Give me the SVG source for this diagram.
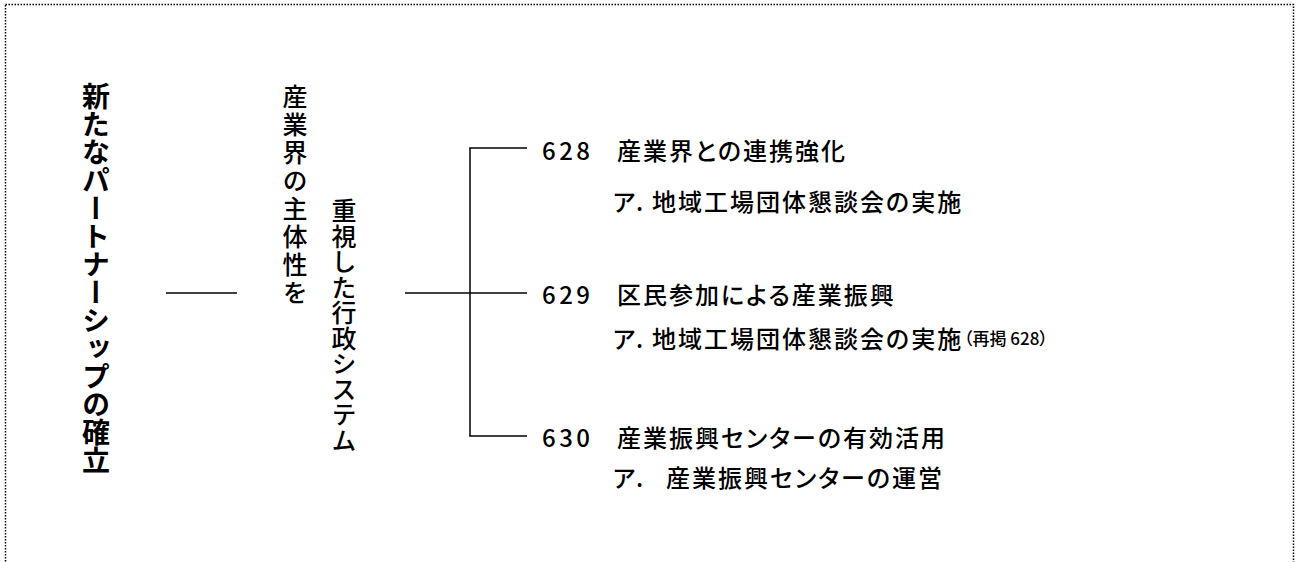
<svg xmlns="http://www.w3.org/2000/svg" width="1297" height="562" viewBox="0 0 1297 562">
<style>
text{font-family:"Noto Sans CJK JP","Liberation Sans",sans-serif;fill:#000;font-weight:500}
.v{writing-mode:vertical-rl;font-size:25px}
.vb{writing-mode:vertical-rl;font-size:28px;font-weight:bold}
.h{font-size:24px;letter-spacing:2px;dominant-baseline:central;font-feature-settings:"palt"}
.a{font-feature-settings:normal;letter-spacing:0}
.s{font-size:17px;letter-spacing:0;dominant-baseline:central}
.ln{stroke:#000;stroke-width:1.5;fill:none}
</style>
<rect x="5.5" y="4.5" width="1288" height="600" fill="none" stroke="#000" stroke-width="1.5" stroke-dasharray="1.5 1.5"/>
<g id="root"><text class="vb" x="96" y="82">新たなパートナーシップの確立</text></g>
<g id="policy"><text class="v" x="295" y="84" letter-spacing="3">産業界の主体性を</text><text class="v" x="344" y="198" letter-spacing="0.5">重視した行政システム</text></g>
<g id="connectors">
<line class="ln" x1="166" y1="293" x2="237" y2="293"/>
<line class="ln" x1="405" y1="293" x2="527" y2="293"/>
<line class="ln" x1="470" y1="148" x2="470" y2="436"/>
<line class="ln" x1="469.25" y1="148" x2="527" y2="148"/>
<line class="ln" x1="469.25" y1="436" x2="527" y2="436"/>
</g>
<g id="n628"><text class="h" y="149"><tspan x="542" letter-spacing="3.5">628</tspan><tspan x="617">産業界との連携強化</tspan></text>
<text class="h" y="200"><tspan class="a" x="612">ア.</tspan><tspan x="652">地域工場団体懇談会の実施</tspan></text></g>
<g id="n629"><text class="h" y="293"><tspan x="542" letter-spacing="3.5">629</tspan><tspan x="617">区民参加による産業振興</tspan></text>
<text class="h" y="337"><tspan class="a" x="612">ア.</tspan><tspan x="652">地域工場団体懇談会の実施</tspan><tspan class="s" x="964">（再掲 628）</tspan></text></g>
<g id="n630"><text class="h" y="436"><tspan x="542" letter-spacing="3.5">630</tspan><tspan x="617">産業振興センターの有効活用</tspan></text>
<text class="h" y="476"><tspan class="a" x="612">ア.</tspan><tspan x="666">産業振興センターの運営</tspan></text></g>
</svg>
